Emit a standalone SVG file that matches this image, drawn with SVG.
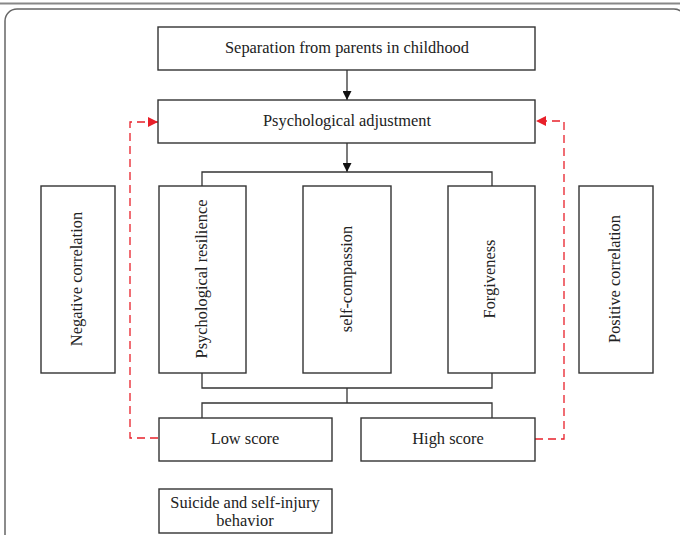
<svg xmlns="http://www.w3.org/2000/svg" width="680" height="535" viewBox="0 0 680 535">
<style>
.box{fill:#fff;stroke:#333;stroke-width:1.4}
.t{font-family:"Liberation Serif","Times New Roman",serif;font-size:16.4px;fill:#222;text-anchor:middle;dominant-baseline:central}
.ln{fill:none;stroke:#333;stroke-width:1.3}
.rd{fill:none;stroke:#e8202a;stroke-width:1.3;stroke-dasharray:8 5}
</style>
<defs>
<marker id="ab" viewBox="0 0 10 10" refX="10" refY="5" markerWidth="9" markerHeight="9" markerUnits="userSpaceOnUse" orient="auto"><path d="M0,0L10,5L0,10z" fill="#111"/></marker>
<marker id="ar" viewBox="0 0 10 10" refX="10" refY="5" markerWidth="10" markerHeight="10" markerUnits="userSpaceOnUse" orient="auto"><path d="M0,0L10,5L0,10z" fill="#e8202a"/></marker>
</defs>
<rect width="680" height="535" fill="#fff"/>
<g id="frame">
<line x1="0" y1="3.5" x2="680" y2="3.5" stroke="#888" stroke-width="2"/>
<path d="M5,535V21A12,12 0 0 1 17,9H674A12,12 0 0 1 686,21" fill="none" stroke="#666" stroke-width="1.5"/>
</g>
<g id="connectors">
<line class="ln" x1="347" y1="70" x2="347" y2="100" marker-end="url(#ab)"/>
<line class="ln" x1="347" y1="143" x2="347" y2="172" marker-end="url(#ab)"/>
<path class="ln" d="M202,186V172H492V186"/>
<path class="ln" d="M202,373V388H492V373"/>
<path class="ln" d="M347,388V403"/>
<path class="ln" d="M202,418V403H492V418"/>
<path class="rd" d="M158,438H130V122H158" marker-end="url(#ar)"/>
<path class="rd" d="M535,439H564V121H536" marker-end="url(#ar)"/>
</g>
<g id="separation"><rect class="box" x="158" y="27" width="377" height="43"/><text class="t" x="347" y="47.5">Separation from parents in childhood</text></g>
<g id="adjustment"><rect class="box" x="158" y="100" width="377" height="43"/><text class="t" x="347" y="120.5">Psychological adjustment</text></g>
<g id="negative"><rect class="box" x="41" y="186" width="74" height="187"/><text class="t" transform="translate(76,279) rotate(-90)">Negative correlation</text></g>
<g id="resilience"><rect class="box" x="159" y="186" width="87" height="187"/><text class="t" transform="translate(201,279) rotate(-90)">Psychological resilience</text></g>
<g id="selfcompassion"><rect class="box" x="303" y="186" width="88" height="187"/><text class="t" transform="translate(346,279) rotate(-90)">self-compassion</text></g>
<g id="forgiveness"><rect class="box" x="448" y="186" width="87" height="187"/><text class="t" transform="translate(489,279) rotate(-90)">Forgiveness</text></g>
<g id="positive"><rect class="box" x="579" y="186" width="74" height="187"/><text class="t" transform="translate(614,279) rotate(-90)">Positive correlation</text></g>
<g id="low"><rect class="box" x="159" y="418" width="173" height="43"/><text class="t" x="245" y="438.5">Low score</text></g>
<g id="high"><rect class="box" x="361" y="418" width="174" height="43"/><text class="t" x="448" y="438.5">High score</text></g>
<g id="suicide"><rect class="box" x="159" y="489" width="173" height="44"/><text class="t" x="245" y="502">Suicide and self-injury</text><text class="t" x="245" y="520">behavior</text></g>
</svg>
